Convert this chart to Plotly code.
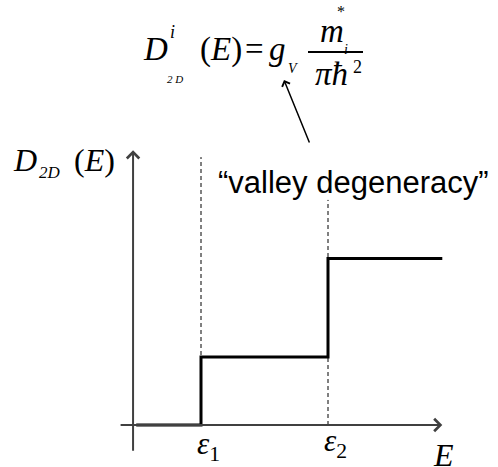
import plotly.graph_objects as go

# Subband energies (arbitrary units) and the 2D density of states on each plateau
# (in units of m*/(pi hbar^2)); the second valley set adds a larger step.
subband_energy = [1.0, 2.0]
dos_plateau = [0.0, 1.0, 2.45]
subband_labels = ["<i>ε</i><sub>1</sub>", "<i>ε</i><sub>2</sub>"]

# Extent of the sketch along the energy axis
e_axis = 0.465      # where the vertical D(E) axis sits
e_start = 0.49      # first point of the staircase
e_end = 2.9         # end of the staircase / tip of the E arrow

W, H = 498, 467
SERIF = "Liberation Serif"
SANS = "Liberation Sans"


def px(x):
    return x / W


def py(y):
    return 1 - y / H


# Staircase: flat, step at each subband edge, flat
xs, ys = [e_start], [dos_plateau[0]]
for k, e in enumerate(subband_energy):
    xs += [e, e]
    ys += [dos_plateau[k], dos_plateau[k + 1]]
xs.append(e_end)
ys.append(dos_plateau[-1])

fig = go.Figure()
fig.add_trace(go.Scatter(x=xs, y=ys, mode="lines",
                         line=dict(color="black", width=3),
                         hoverinfo="skip", showlegend=False))

# Dashed guides at each subband edge
guide_top = [3.94, 3.31]
for e, top in zip(subband_energy, guide_top):
    fig.add_trace(go.Scatter(x=[e, e], y=[0, top], mode="lines",
                             line=dict(color="black", width=1, dash="4px,3px"),
                             hoverinfo="skip", showlegend=False))

anns = []
axis_col = "#404040"
# Energy axis with arrow
anns.append(dict(x=e_end, y=0, ax=0.355, ay=0, xref="x", yref="y",
                 axref="x", ayref="y", showarrow=True, arrowhead=4,
                 arrowsize=1.2, arrowwidth=2, arrowcolor=axis_col, text=""))
# DOS axis with arrow
anns.append(dict(x=e_axis, y=4.04, ax=e_axis, ay=-0.4, xref="x", yref="y",
                 axref="x", ayref="y", showarrow=True, arrowhead=4,
                 arrowsize=1.2, arrowwidth=2, arrowcolor=axis_col, text=""))

# Subband edge labels
for e, lab, dy in zip(subband_energy, subband_labels, [-0.31, -0.27]):
    anns.append(dict(x=e + 0.06, y=dy, xref="x", yref="y", text=lab,
                     showarrow=False, xanchor="center", yanchor="middle",
                     font=dict(family=SERIF, size=31, color="black")))


def txt(x, y, text, size, family=SERIF, xanchor="center"):
    anns.append(dict(x=px(x), y=py(y), xref="paper", yref="paper", text=text,
                     showarrow=False, xanchor=xanchor, yanchor="middle",
                     font=dict(family=family, size=size, color="black")))


# Energy axis title
txt(443, 455, "<i>E</i>", 32)

# D_2D(E) axis title
txt(25, 160, "<i>D</i>", 32)
txt(50, 172, "<i>2D</i>", 17)
txt(94, 160, "(<i>E</i>)", 32)

# Formula: D^i_2D(E) = g_V m_i^* / (pi hbar^2)
txt(155, 49, "<i>D</i>", 33)
txt(172, 32, "<i>i</i>", 18)
txt(175, 79, "<i>2 D</i>", 11)
txt(221, 49, "(<i>E</i>)", 33)
txt(254, 49, "=", 33)
txt(277, 49, "<i>g</i>", 33)
txt(293, 68, "<i>V</i>", 14)
txt(332, 31, "<i>m</i>", 33)
txt(341, 12, "*", 16)
txt(346, 49, "<i>i</i>", 14)
txt(331, 74, "<i>πħ</i>", 33)
txt(357, 67, "2", 18)

# Fraction bar
shapes = [dict(type="line", xref="paper", yref="paper",
               x0=px(308), x1=px(363), y0=py(52), y1=py(52),
               line=dict(color="black", width=2))]

# Pointer from the annotation text to g_V
anns.append(dict(x=px(284), y=py(80), ax=26, ay=64, xref="paper", yref="paper",
                 showarrow=True, arrowhead=4, arrowsize=1.1, arrowwidth=1.5,
                 arrowcolor="black", text=""))
txt(216, 182, "“valley degeneracy”", 31, family=SANS, xanchor="left")

fig.update_layout(
    width=W, height=H,
    margin=dict(l=0, r=0, t=0, b=0),
    paper_bgcolor="white", plot_bgcolor="white",
    xaxis=dict(range=[1 - 201 / 127, 1 + 297 / 127], visible=False, fixedrange=True),
    yaxis=dict(range=[-42 / 68, 425 / 68], visible=False, fixedrange=True),
    annotations=anns, shapes=shapes, showlegend=False,
)

fig.write_html("out.html")
